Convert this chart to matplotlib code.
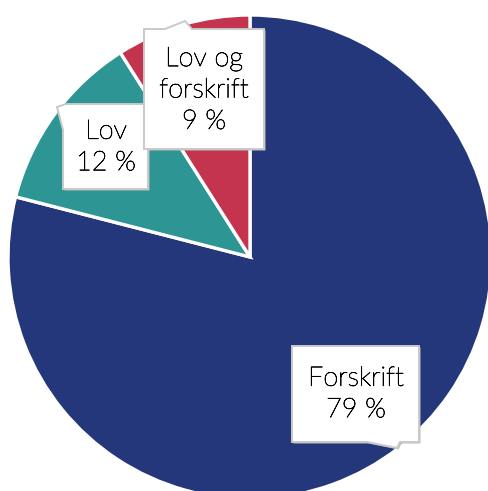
import matplotlib
matplotlib.use("Agg")
import matplotlib.pyplot as plt
from matplotlib.patches import Polygon
import matplotlib.patheffects as pe

categories = ["Forskrift", "Lov", "Lov og\nforskrift"]
values = [79, 12, 9]
colors = ["#24377A", "#2E9595", "#C5344F"]

W, H = 488, 491
fig = plt.figure(figsize=(W / 100, H / 100), dpi=100)
ax = fig.add_axes([0, 0, 1, 1])

cx, cy, r = 250, 257, 242
ax.pie(values, colors=colors, startangle=90, counterclock=False,
       center=(cx, H - cy), radius=r,
       wedgeprops=dict(edgecolor="white", linewidth=2.4))
ax.set_xlim(0, W)
ax.set_ylim(0, H)
ax.set_aspect("equal")
ax.axis("off")

def yflip(pts):
    return [(x, H - y) for x, y in pts]

# callout boxes (pixel coordinates, y down)
boxes = [
    [(292, 346), (419, 346), (419, 442), (400, 442), (397, 448), (367, 442), (292, 442)],
    [(66, 104), (148, 104), (148, 189), (63, 189), (63, 130), (57, 107)],
    [(144, 29), (165, 29), (185, 21), (192, 29), (264, 29), (264, 149), (144, 149)],
]
for pts in boxes:
    sh = [(x + 1.5, y + 1.5) for x, y in pts]
    ax.add_patch(Polygon(yflip(sh), closed=True, facecolor="#BDBDBD",
                         edgecolor="none", zorder=3))
    ax.add_patch(Polygon(yflip(pts), closed=True, facecolor="white",
                         edgecolor="#C9C9C9", linewidth=1.4, zorder=4))

label_pos = [(356, 394), (106, 147), (204, 90)]
for (x, y), cat, v in zip(label_pos, categories, values):
    ax.text(x, H - y, f"{cat}\n{v} %", ha="center", va="center",
            fontsize=19.5, family=["Lato", "DejaVu Sans"], fontweight="light",
            color="#000000", linespacing=1.32, zorder=5,
            path_effects=[pe.withStroke(linewidth=0.5, foreground="#000000")])

fig.savefig("out.png", dpi=100)
